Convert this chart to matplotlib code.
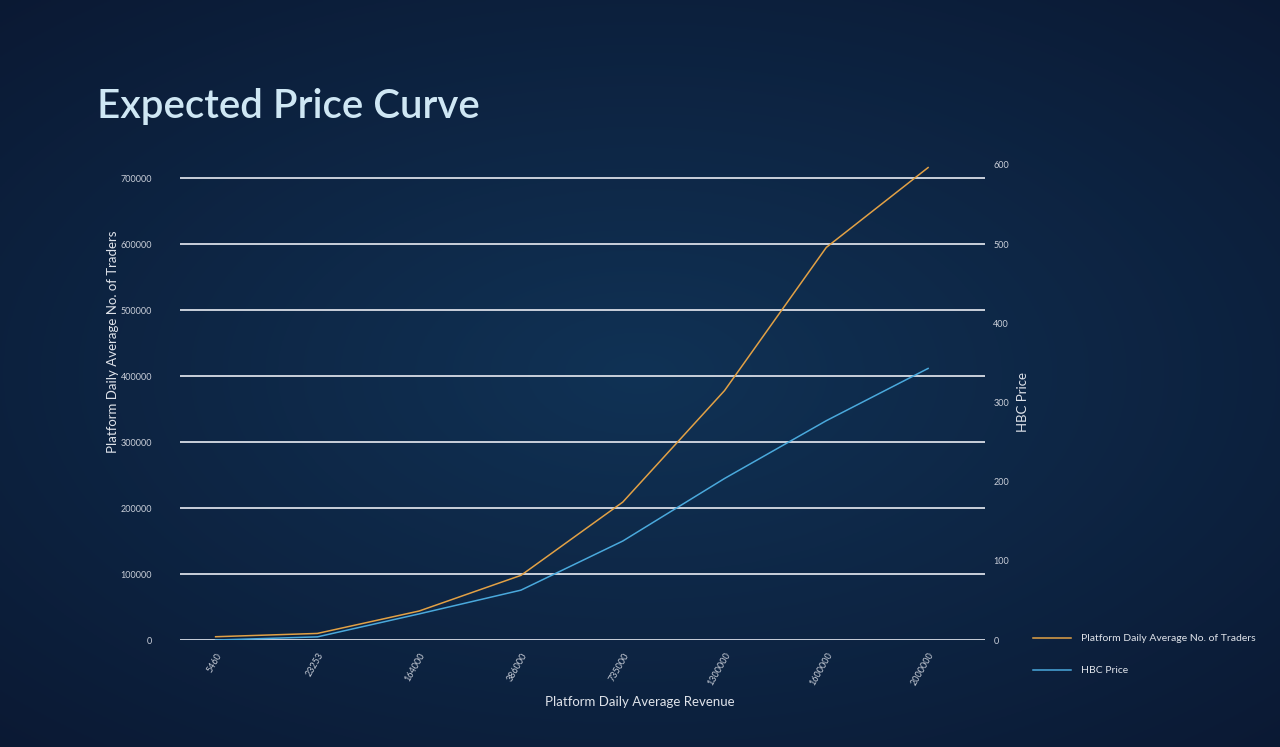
import numpy as np
import matplotlib
matplotlib.use("Agg")
import matplotlib.pyplot as plt
from matplotlib.lines import Line2D

revenue_labels = ["5460", "23253", "164000", "386000", "735000", "1300000", "1600000", "2000000"]
traders = [5000, 10000, 44000, 98000, 209000, 378000, 595000, 716000]
hbc_price = [0, 4, 33, 63, 125, 204, 277, 343]

plt.rcParams['font.family'] = ['Lato', 'DejaVu Sans']

fig = plt.figure(figsize=(12.8, 7.47), dpi=100)

# background gradient
bg = fig.add_axes([0, 0, 1, 1], zorder=-10)
yy, xx = np.mgrid[0:1:300j, 0:1:500j]
d = np.sqrt(((xx - 0.5) / 0.85) ** 2 + ((yy - 0.5) / 0.8) ** 2)
t = np.clip(d, 0, 1)
c_in = np.array([0x10, 0x32, 0x55]) / 255
c_out = np.array([0x0a, 0x15, 0x2e]) / 255
img = c_in[None, None, :] * (1 - t[..., None]) + c_out[None, None, :] * t[..., None]
bg.imshow(img, aspect='auto', extent=[0, 1, 0, 1], origin='lower')
bg.axis('off')

ax = fig.add_axes([0.1406, 0.1432, 0.629, 0.636])
ax.patch.set_alpha(0)
x = np.arange(len(revenue_labels))
orange = '#e2a145'
blue = '#4aa9dc'
ax.plot(x, traders, color=orange, lw=1.1)
ax.set_ylim(0, 720000)
ax.set_xlim(-0.35, 7.56)
ax.set_yticks(np.arange(0, 700001, 100000))
ax.set_yticklabels([str(v) for v in range(0, 700001, 100000)])
ax.grid(axis='y', color='#d8dde6', lw=1.3)
ax.set_axisbelow(True)
for s in ax.spines.values():
    s.set_visible(False)
ax.tick_params(axis='y', length=0, pad=20, labelsize=6.5, labelcolor='#c9ced8')
ax.set_xticks(x)
ax.set_xticklabels(revenue_labels, rotation=60, ha='right', rotation_mode='anchor',
                   fontsize=6.5, color='#c9ced8')
ax.tick_params(axis='x', length=0, pad=8)
ax.set_ylabel('Platform Daily Average No. of Traders', color='#dfe3ea', fontsize=9.5)
ax.yaxis.set_label_coords(-0.076, 0.627)
ax.set_xlabel('Platform Daily Average Revenue', color='#dfe3ea', fontsize=9.5)
ax.xaxis.set_label_coords(0.571, -0.118)

ax2 = ax.twinx()
ax2.plot(x, hbc_price, color=blue, lw=1.1)
ax2.set_ylim(0, 600)
ax2.set_yticks(np.arange(0, 601, 100))
for s in ax2.spines.values():
    s.set_visible(False)
ax2.tick_params(axis='y', length=0, pad=6, labelsize=6.5, labelcolor='#c9ced8')
ax2.set_ylabel('HBC Price', color='#dfe3ea', fontsize=9.5)
ax2.yaxis.set_label_coords(1.04, 0.5)

handles = [Line2D([], [], color=orange, lw=1.1), Line2D([], [], color=blue, lw=1.1)]
leg = fig.legend(handles, ['Platform Daily Average No. of Traders', 'HBC Price'],
                 loc='upper left', bbox_to_anchor=(0.8, 0.164), frameon=False,
                 fontsize=7.5, labelcolor='#dfe3ea', handlelength=3.6, handletextpad=1.0,
                 labelspacing=2.2)

fig.text(0.076, 0.857, 'Expected Price Curve', color='#cfe7f4', fontsize=29,
         fontweight='semibold', ha='left', va='center')

fig.savefig('out.png', dpi=100)
